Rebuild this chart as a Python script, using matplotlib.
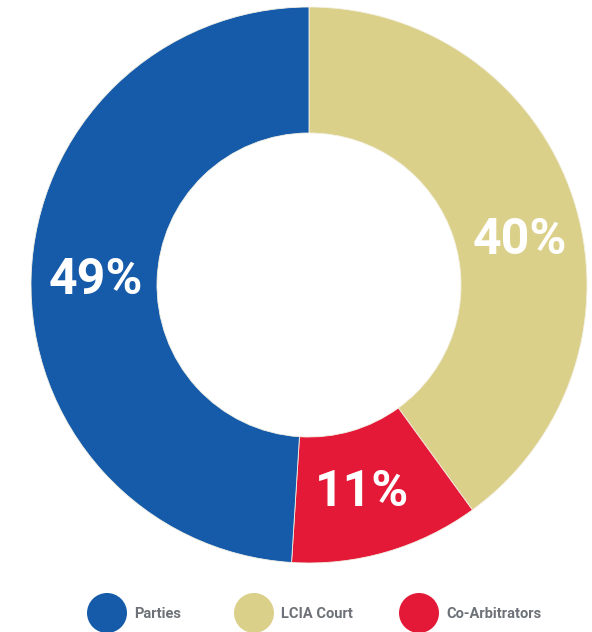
import matplotlib
matplotlib.use("Agg")
import matplotlib.pyplot as plt
from matplotlib.patches import Circle

categories = ["LCIA Court", "Co-Arbitrators", "Parties"]
shares = [40, 11, 49]
colors = ["#DBD08A", "#E31937", "#155BAA"]
legend_order = ["Parties", "LCIA Court", "Co-Arbitrators"]

W, H = 592, 632
fig = plt.figure(figsize=(W / 100, H / 100), dpi=100)
ax = fig.add_axes([0, 0, 1, 1])

cx, cy, R = 309, H - 285, 278
ax.pie(
    shares, colors=colors, startangle=90, counterclock=False,
    center=(cx, cy), radius=R, frame=True,
    wedgeprops=dict(width=126, edgecolor="#F4F1E4", linewidth=0.6),
)
ax.set_xlim(0, W)
ax.set_ylim(0, H)
ax.set_aspect("equal")
ax.axis("off")

# percentage labels inside each ring segment
label_pos = {"LCIA Court": (520, H - 241), "Co-Arbitrators": (362, H - 492), "Parties": (96, H - 281)}
for cat, val in zip(categories, shares):
    x, y = label_pos[cat]
    ax.text(x, y, f"{val}%", ha="center", va="center", color="white",
            fontsize=36, fontweight="bold", family="Roboto")

# legend with round markers
col = dict(zip(categories, colors))
legend_x = [107, 254, 419]
for name, x in zip(legend_order, legend_x):
    ax.add_patch(Circle((x, H - 613), 20, color=col[name], lw=0))
    ax.text(x + 27, H - 614, name, ha="left", va="center", color="#6D7278",
            fontsize=10.5, fontweight="bold", family="Roboto")

fig.savefig("out.png", dpi=100)
